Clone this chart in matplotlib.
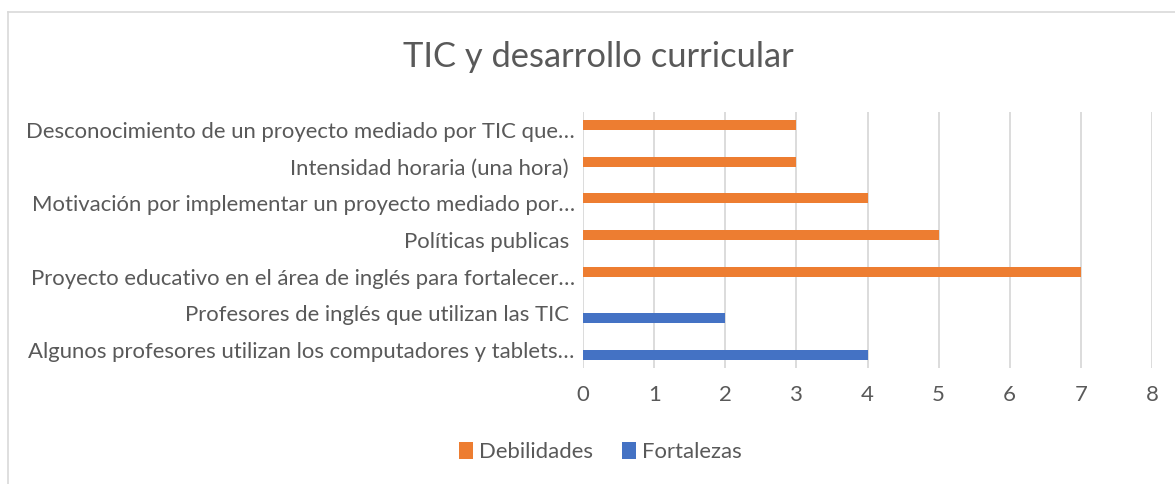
import matplotlib.pyplot as plt
from matplotlib.lines import Line2D

# categories, top to bottom as shown
categories = [
    "Desconocimiento de un proyecto mediado por TIC que…",
    "Intensidad horaria (una hora) ",
    "Motivación por implementar un proyecto mediado por…",
    "Políticas publicas ",
    "Proyecto educativo en el área de inglés para fortalecer…",
    "Profesores de inglés que utilizan las TIC ",
    "Algunos profesores utilizan los computadores y tablets…",
]
debilidades = [3, 3, 4, 5, 7, 0, 0]
fortalezas = [0, 0, 0, 0, 0, 2, 4]
x_ticks = [0, 1, 2, 3, 4, 5, 6, 7, 8]

orange = "#ED7D31"
blue = "#4472C4"
text_col = "#595959"
grid_col = "#D9D9D9"

plt.rcParams['font.family'] = ['Lato', 'DejaVu Sans']

fig = plt.figure(figsize=(11.75, 4.84), dpi=100)
ax = fig.add_axes([0.4962, 0.239, 0.4842, 0.5302])

pos = list(range(len(categories)))
h = 0.27
ax.barh([p - h / 2 for p in pos], debilidades, height=h, color=orange, label="Debilidades")
ax.barh([p + h / 2 for p in pos], fortalezas, height=h, color=blue, label="Fortalezas")

ax.set_ylim(len(categories) - 0.5, -0.5)
ax.set_xlim(0, 8)
ax.set_xticks(x_ticks)
ax.set_yticks(pos)
ax.set_yticklabels(categories)
ax.tick_params(axis='both', length=0, labelsize=15.9, colors=text_col)
ax.tick_params(axis='y', pad=6)
ax.tick_params(axis='x', pad=12)
ax.grid(axis='x', color=grid_col, linewidth=1.3)
ax.set_axisbelow(True)
for s in ax.spines.values():
    s.set_visible(False)

fig.text(0.509, 0.882, "TIC y desarrollo curricular", ha='center', va='center',
         fontsize=24.8, color=text_col)

handles, labels = ax.get_legend_handles_labels()
fig.legend(handles, labels, loc='center', bbox_to_anchor=(0.511, 0.066), ncol=2,
           frameon=False, fontsize=15.9, labelcolor=text_col, handlelength=0.62,
           handleheight=0.85, handletextpad=0.3, columnspacing=1.3)

# chart area border (only top and left edges visible in the crop)
fig.add_artist(Line2D([0.0068, 1.0], [0.975, 0.975], color=grid_col, lw=1.2))
fig.add_artist(Line2D([0.0068, 0.0068], [0.0, 0.975], color=grid_col, lw=1.2))

fig.savefig("out.png", dpi=100)
